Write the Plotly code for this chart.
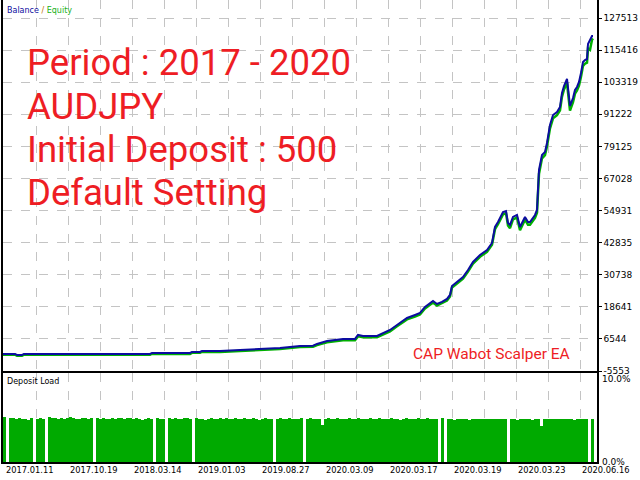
import plotly.graph_objects as go

# balance / equity curve, x = trade number
trade_no = [0, 12, 14, 19, 21, 147, 149, 187, 189, 197, 199, 217, 237, 257, 277, 297,
            310, 314, 324, 340, 352, 355, 360, 374, 380, 387, 394, 404, 412, 417, 422,
            430, 434, 439, 444, 447, 449, 454, 460, 465, 470, 477, 484, 489, 490, 492,
            495, 500, 503, 505, 507, 510, 514, 517, 522, 525, 527, 532, 534, 536, 539,
            542, 544, 547, 550, 554, 557, 559, 561, 564, 565, 567, 570, 572, 574, 576,
            578, 580, 582, 584, 585, 587, 589, 590]
balance = [875, 875, 498, 498, 875, 875, 1252, 1252, 1629, 1629, 2006, 2006, 2383, 2759,
           3136, 3890, 4003, 4644, 5775, 6529, 6529, 8036, 7659, 7659, 8790, 9921, 11806,
           14444, 15574, 16328, 18590, 20851, 19720, 20474, 21605, 23113, 26505, 28012,
           29897, 32535, 35550, 38189, 40073, 42712, 44596, 48742, 50627, 54396, 54773,
           50250, 49496, 52511, 53265, 48742, 52511, 50627, 50627, 53265, 55150, 70226,
           75880, 77010, 80403, 87187, 90956, 92087, 93972, 99248, 101887, 104525, 101133,
           94349, 97361, 100377, 101507, 103392, 106784, 110930, 111683, 112060, 117714,
           119598, 120729, 120729]
equity = [600, 600, 200, 200, 600, 600, 900, 900, 1300, 1300, 1650, 1650, 2000, 2400,
          2750, 3450, 3600, 4200, 5300, 6050, 6050, 7500, 7200, 7200, 8300, 9400, 11300,
          13900, 15000, 15800, 18000, 20300, 19100, 19900, 21000, 22500, 25900, 27400,
          29300, 31900, 34900, 37500, 39400, 42000, 43800, 47900, 49800, 53500, 53900,
          49300, 48300, 51600, 52300, 47500, 51500, 49600, 49600, 52200, 54100, 68800,
          74600, 75800, 79200, 85900, 89700, 90900, 92700, 97900, 100600, 103200, 99500,
          92600, 95800, 99000, 100200, 102000, 105400, 109500, 110300, 110700, 116000,
          115500, 119300, 119800]

# deposit load (%), one value per group of 3 trades
load = [5.05, 0, 4.95, 4.95, 4.85, 4.95, 4.85, 4.85, 4.75, 4.95, 0, 4.85, 4.95, 4.85, 0, 5.05, 4.95, 4.95, 4.85, 4.95,
        4.85, 4.95, 5.05, 4.95, 4.85, 4.85, 4.95, 4.95, 4.85, 4.95, 0, 4.95, 4.85, 4.95, 4.85, 4.85, 4.95, 4.85, 4.95, 4.95,
        4.85, 4.95, 4.95, 4.85, 4.95, 4.85, 4.75, 4.85, 4.95, 4.85, 0, 4.95, 4.85, 4.85, 0, 4.95, 4.85, 4.95, 4.85, 4.85,
        4.95, 4.95, 4.85, 0, 4.95, 4.85, 4.85, 4.75, 4.85, 4.95, 4.85, 4.85, 4.95, 4.85, 4.95, 4.85, 4.85, 4.95, 4.85, 4.85,
        4.95, 4.85, 4.85, 4.95, 4.85, 4.75, 4.85, 4.95, 4.85, 4.85, 0, 4.85, 4.95, 4.85, 4.85, 4.95, 4.85, 4.85, 4.85, 4.95,
        0, 4.85, 4.95, 4.85, 4.85, 4.85, 4.2, 4.85, 4.95, 4.85, 4.85, 4.95, 4.85, 4.85, 4.85, 4.95, 4.85, 4.85, 4.95, 4.85,
        4.85, 4.85, 4.95, 4.85, 4.85, 4.95, 4.85, 4.85, 4.85, 4.95, 4.85, 4.85, 4.75, 4.85, 4.95, 4.85, 4.85, 4.85, 4.95, 4.85,
        4.85, 4.95, 4.85, 4.85, 4.85, 0, 4.95, 0, 4.85, 4.85, 4.75, 4.85, 4.85, 4.85, 4.85, 4.75, 4.85, 4.85, 4.85, 4.85,
        4.85, 4.85, 4.85, 4.85, 4.85, 4.85, 4.85, 4.85, 0, 4.85, 4.85, 4.75, 4.85, 4.85, 4.85, 4.85, 4.75, 4.85, 4.85, 4.0,
        4.85, 4.85, 4.85, 4.85, 4.85, 4.85, 4.85, 4.85, 4.85, 4.85, 4.75, 4.85, 4.85, 4.85, 4.85, 0, 4.85]
load_x = [3 * i + 1.5 for i in range(len(load))]

y_ticks = [-5553, 6544, 18641, 30738, 42835, 54931, 67028, 79125, 91222, 103319, 115416, 127513]
x_grid = [1 + 32 * k for k in range(19)]
date_labels = ["2017.01.11", "2017.10.19", "2018.03.14", "2019.01.03", "2019.08.27",
               "2020.03.09", "2020.03.17", "2020.03.19", "2020.03.23", "2020.06.16"]
info_lines = ["Period : 2017 - 2020", "AUDJPY", "Initial Deposit : 500", "Default Setting"]

RED = "#ee1d24"
BLUE = "#0c0ca0"
GREEN = "#00b000"
GRID = "#c4c4c4"
W, H = 640, 480

fig = go.Figure()
fig.add_trace(go.Scatter(x=trade_no, y=equity, mode="lines", line=dict(color=GREEN, width=2.5),
                         xaxis="x", yaxis="y", hoverinfo="skip"))
fig.add_trace(go.Scatter(x=trade_no, y=balance, mode="lines", line=dict(color=BLUE, width=2),
                         xaxis="x", yaxis="y", hoverinfo="skip"))
fig.add_trace(go.Bar(x=load_x, y=load, width=3, marker=dict(color="#00aa00", line=dict(width=0)),
                     xaxis="x2", yaxis="y2", hoverinfo="skip"))

axis_x = dict(range=[0, 594], domain=[3 / W, 597 / W], tickvals=x_grid, showticklabels=False,
              showgrid=True, gridcolor=GRID, griddash="dash", gridwidth=1, zeroline=False,
              showline=True, linecolor="black", linewidth=1.5, ticks="", automargin=False)

fig.update_layout(
    width=W, height=H,
    margin=dict(l=0, r=0, t=0, b=0, autoexpand=False),
    paper_bgcolor="white", plot_bgcolor="white",
    showlegend=False, bargap=0,
    font=dict(family="DejaVu Sans", size=9, color="black"),
    xaxis=dict(axis_x, anchor="y"),
    yaxis=dict(range=[-5553, 134298], domain=[1 - 371 / H, 1], side="right",
               tickvals=y_ticks, ticktext=[str(v) for v in y_ticks],
               ticks="outside", ticklen=3, tickcolor="black",
               tickfont=dict(family="DejaVu Sans", size=9, color="black"),
               showgrid=True, gridcolor=GRID, griddash="dash", zeroline=False,
               showline=True, mirror=True, linecolor="black", linewidth=1.5, anchor="x",
               automargin=False),
    xaxis2=dict(axis_x, anchor="y2", mirror=True),
    yaxis2=dict(range=[0, 10], domain=[1 - 462 / H, 1 - 373 / H], showgrid=False,
                showticklabels=False, zeroline=False, showline=True, mirror=True,
                linecolor="black", linewidth=1.5, anchor="x2", automargin=False),
)

ann = []
for i, lab in enumerate(date_labels):
    ann.append(dict(x=x_grid[2 * i], y=1 - 470 / H, xref="x2", yref="paper", text=lab,
                    showarrow=False, xanchor="left", yanchor="middle",
                    font=dict(family="DejaVu Sans", size=8.3, color="black")))
ann.append(dict(x=600 / W, y=1 - 379 / H, xref="paper", yref="paper", text="10.0%",
                showarrow=False, xanchor="left", yanchor="middle",
                font=dict(family="DejaVu Sans", size=9, color="black")))
ann.append(dict(x=600 / W, y=1 - 462 / H, xref="paper", yref="paper", text="0.0%",
                showarrow=False, xanchor="left", yanchor="middle",
                font=dict(family="DejaVu Sans", size=9, color="black")))
ann.append(dict(x=5 / W, y=1 - 10 / H, xref="paper", yref="paper",
                text="<span style='color:%s'>Balance</span> <span style='color:#c07000'>/</span> "
                     "<span style='color:%s'>Equity</span>" % (BLUE, "#20b020"),
                showarrow=False, xanchor="left", yanchor="middle",
                font=dict(family="DejaVu Sans", size=8)))
ann.append(dict(x=5 / W, y=1 - 381 / H, xref="paper", yref="paper", text="Deposit Load",
                showarrow=False, xanchor="left", yanchor="middle",
                font=dict(family="DejaVu Sans", size=8, color="black")))
for i, line in enumerate(info_lines):
    ann.append(dict(x=25 / W, y=1 - (63 + 43 * i) / H, xref="paper", yref="paper", text=line,
                    showarrow=False, xanchor="left", yanchor="middle",
                    font=dict(family="Roboto", size=36.5, color=RED)))
ann.append(dict(x=411 / W, y=1 - 354 / H, xref="paper", yref="paper", text="CAP Wabot Scalper EA",
                showarrow=False, xanchor="left", yanchor="middle",
                font=dict(family="Roboto", size=15.5, color=RED)))
fig.update_layout(annotations=ann)

# drop the page's default body margin so the 640x480 figure fills the window
fig.write_html("out.html", config={"displayModeBar": False},
               post_script="document.body.style.margin='0';document.body.style.overflow='hidden';")
